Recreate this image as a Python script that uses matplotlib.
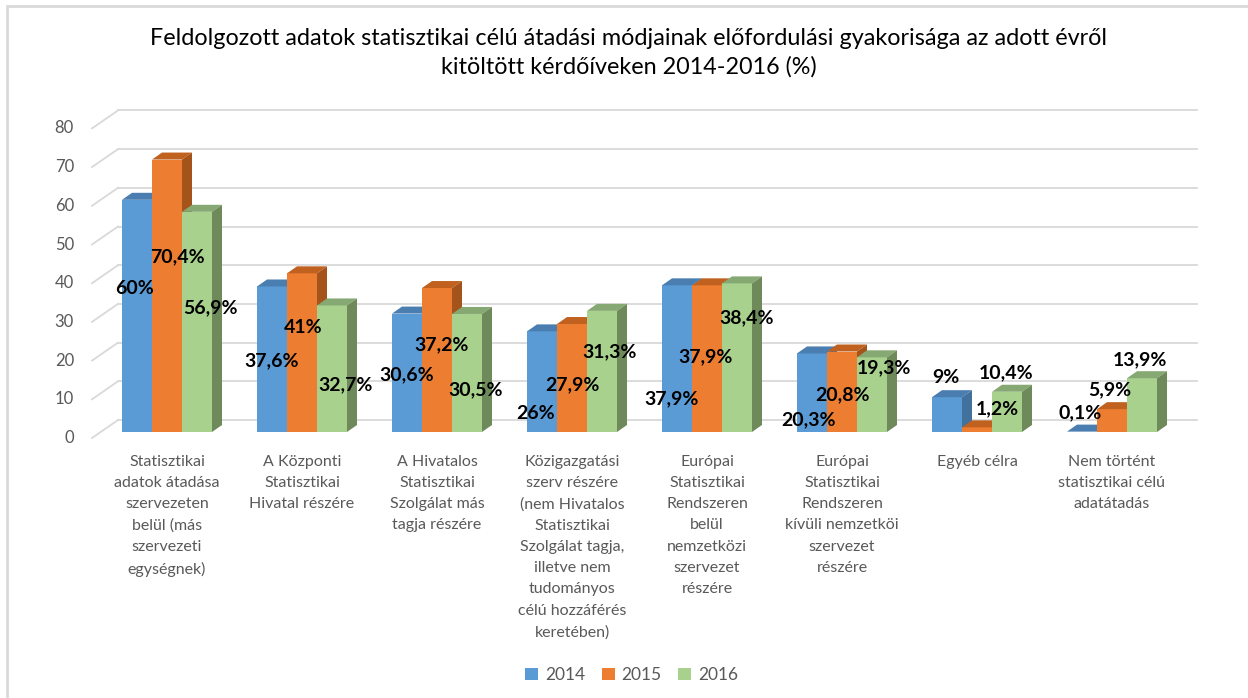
import matplotlib.pyplot as plt
from matplotlib.patches import Polygon, Rectangle, Patch

# --- data -------------------------------------------------------------
categories = [
    "Statisztikai\nadatok átadása\nszervezeten\nbelül (más\nszervezeti\negységnek)",
    "A Központi\nStatisztikai\nHivatal részére",
    "A Hivatalos\nStatisztikai\nSzolgálat más\ntagja részére",
    "Közigazgatási\nszerv részére\n(nem Hivatalos\nStatisztikai\nSzolgálat tagja,\nilletve nem\ntudományos\ncélú hozzáférés\nkeretében)",
    "Európai\nStatisztikai\nRendszeren\nbelül\nnemzetközi\nszervezet\nrészére",
    "Európai\nStatisztikai\nRendszeren\nkívüli nemzetköi\nszervezet\nrészére",
    "Egyéb célra",
    "Nem történt\nstatisztikai célú\nadatátadás",
]
years = ["2014", "2015", "2016"]
v2014 = [60, 37.6, 30.6, 26, 37.9, 20.3, 9, 0.1]
v2015 = [70.4, 41, 37.2, 27.9, 37.9, 20.8, 1.2, 5.9]
v2016 = [56.9, 32.7, 30.5, 31.3, 38.4, 19.3, 10.4, 13.9]
y_ticks = [0, 10, 20, 30, 40, 50, 60, 70, 80]

# where Excel put the value labels (height in axis units, x shift in px)
label_y = [
    [37.2, 18.3, 14.7, 4.9, 8.5, 3.1, 14.0, 4.9],
    [45.2, 27.1, 22.5, 12.1, 19.4, 9.6, 5.9, 10.9],
    [32.0, 12.1, 10.9, 20.7, 29.5, 16.5, 15.2, 18.6],
]
label_dx = [
    [-2, 0, 0, -6, -5, -3, -1, -2],
    [10, 1, 5, 0, -1, 1, 20, -2],
    [13, 14, 9, 8, 10, 12, -1, -2],
]

# --- styles -----------------------------------------------------------
front_c = ["#5B9BD5", "#ED7D31", "#A9D18E"]
top_c = ["#4A7DB0", "#C0611F", "#86A872"]
side_c = ["#41719C", "#A4531A", "#6E8A5B"]
grid_c = "#D9D9D9"
text_c = "#595959"
FONT = "Lato"

W, H = 1248, 698
X0, XSTEP = 167, 135      # px of first category centre, px between categories
Y0, YSCALE = 432, 3.87    # px of value 0, px per unit


def fmt(v):
    return f"{v:g}".replace(".", ",") + "%"


fig = plt.figure(figsize=(W / 100, H / 100), dpi=100)
ax = fig.add_axes([0, 0, 1, 1])
ax.set_xlim(-X0 / XSTEP, (W - X0) / XSTEP)
ax.set_ylim((Y0 - H) / YSCALE, Y0 / YSCALE)
ax.set_axis_off()

px = 1 / XSTEP
py = 1 / YSCALE

# frame
fig.patches.append(Rectangle((7 / W, -0.1), 1.2, 1 - 6 / H + 0.1,
                             transform=fig.transFigure, fill=False,
                             edgecolor=grid_c, lw=2))

# back wall grid + floor diagonals
back_dy = 12 * py
front_dy = -6 * py
for t in y_ticks:
    ax.plot([(118 - X0) * px, (1197 - X0) * px], [t + back_dy, t + back_dy],
            color=grid_c, lw=1.3, zorder=1)
    ax.plot([(92 - X0) * px, (118 - X0) * px], [t + front_dy, t + back_dy],
            color=grid_c, lw=1.3, zorder=1)
    ax.text((74 - X0) * px, t + front_dy, str(t), ha="right", va="center",
            fontsize=12, color=text_c, family=FONT)

# 3d-looking bars
bw = 30 * px
ddx = 10 * px
ddy = 7 * py
series = [v2014, v2015, v2016]
for s, vals in enumerate(series):
    for i, v in enumerate(vals):
        left = i - 45 * px + s * bw
        z = 3 + s
        ax.add_patch(Rectangle((left, 0), bw, v, facecolor=front_c[s],
                               edgecolor="none", zorder=z))
        ax.add_patch(Polygon([(left, v), (left + bw, v),
                              (left + bw + ddx, v + ddy), (left + ddx, v + ddy)],
                             facecolor=top_c[s], edgecolor="none", zorder=z))
        ax.add_patch(Polygon([(left + bw, 0), (left + bw + ddx, ddy),
                              (left + bw + ddx, v + ddy), (left + bw, v)],
                             facecolor=side_c[s], edgecolor="none", zorder=z))

# value labels
for s, vals in enumerate(series):
    for i, v in enumerate(vals):
        cx = i - 45 * px + s * bw + bw / 2 + label_dx[s][i] * px
        ax.text(cx, label_y[s][i], fmt(v), ha="center", va="center",
                fontsize=14, fontweight="bold", color="black",
                family=FONT, zorder=10)

# category labels
for i, c in enumerate(categories):
    ax.text(i, (Y0 - 455) * py, c, ha="center", va="top", fontsize=11.5,
            color=text_c, family=FONT, linespacing=1.65)

# title
fig.text(0.504, 1 - 53 / H,
         "Feldolgozott adatok statisztikai célú átadási módjainak előfordulási gyakorisága az adott évről\n"
         "kitöltött kérdőíveken 2014-2016 (%)",
         ha="center", va="center", fontsize=16.8, color="black",
         family=FONT, linespacing=1.4)

# legend
handles = [Patch(facecolor=front_c[s], label=years[s]) for s in range(3)]
fig.legend(handles=handles, loc="center", bbox_to_anchor=(0.506, 1 - 675 / H),
           ncol=3, frameon=False, handlelength=0.75, handleheight=0.75,
           handletextpad=0.4, columnspacing=0.95,
           prop={"family": FONT, "size": 12.5}, labelcolor=text_c)

fig.savefig("out.png", dpi=100)
